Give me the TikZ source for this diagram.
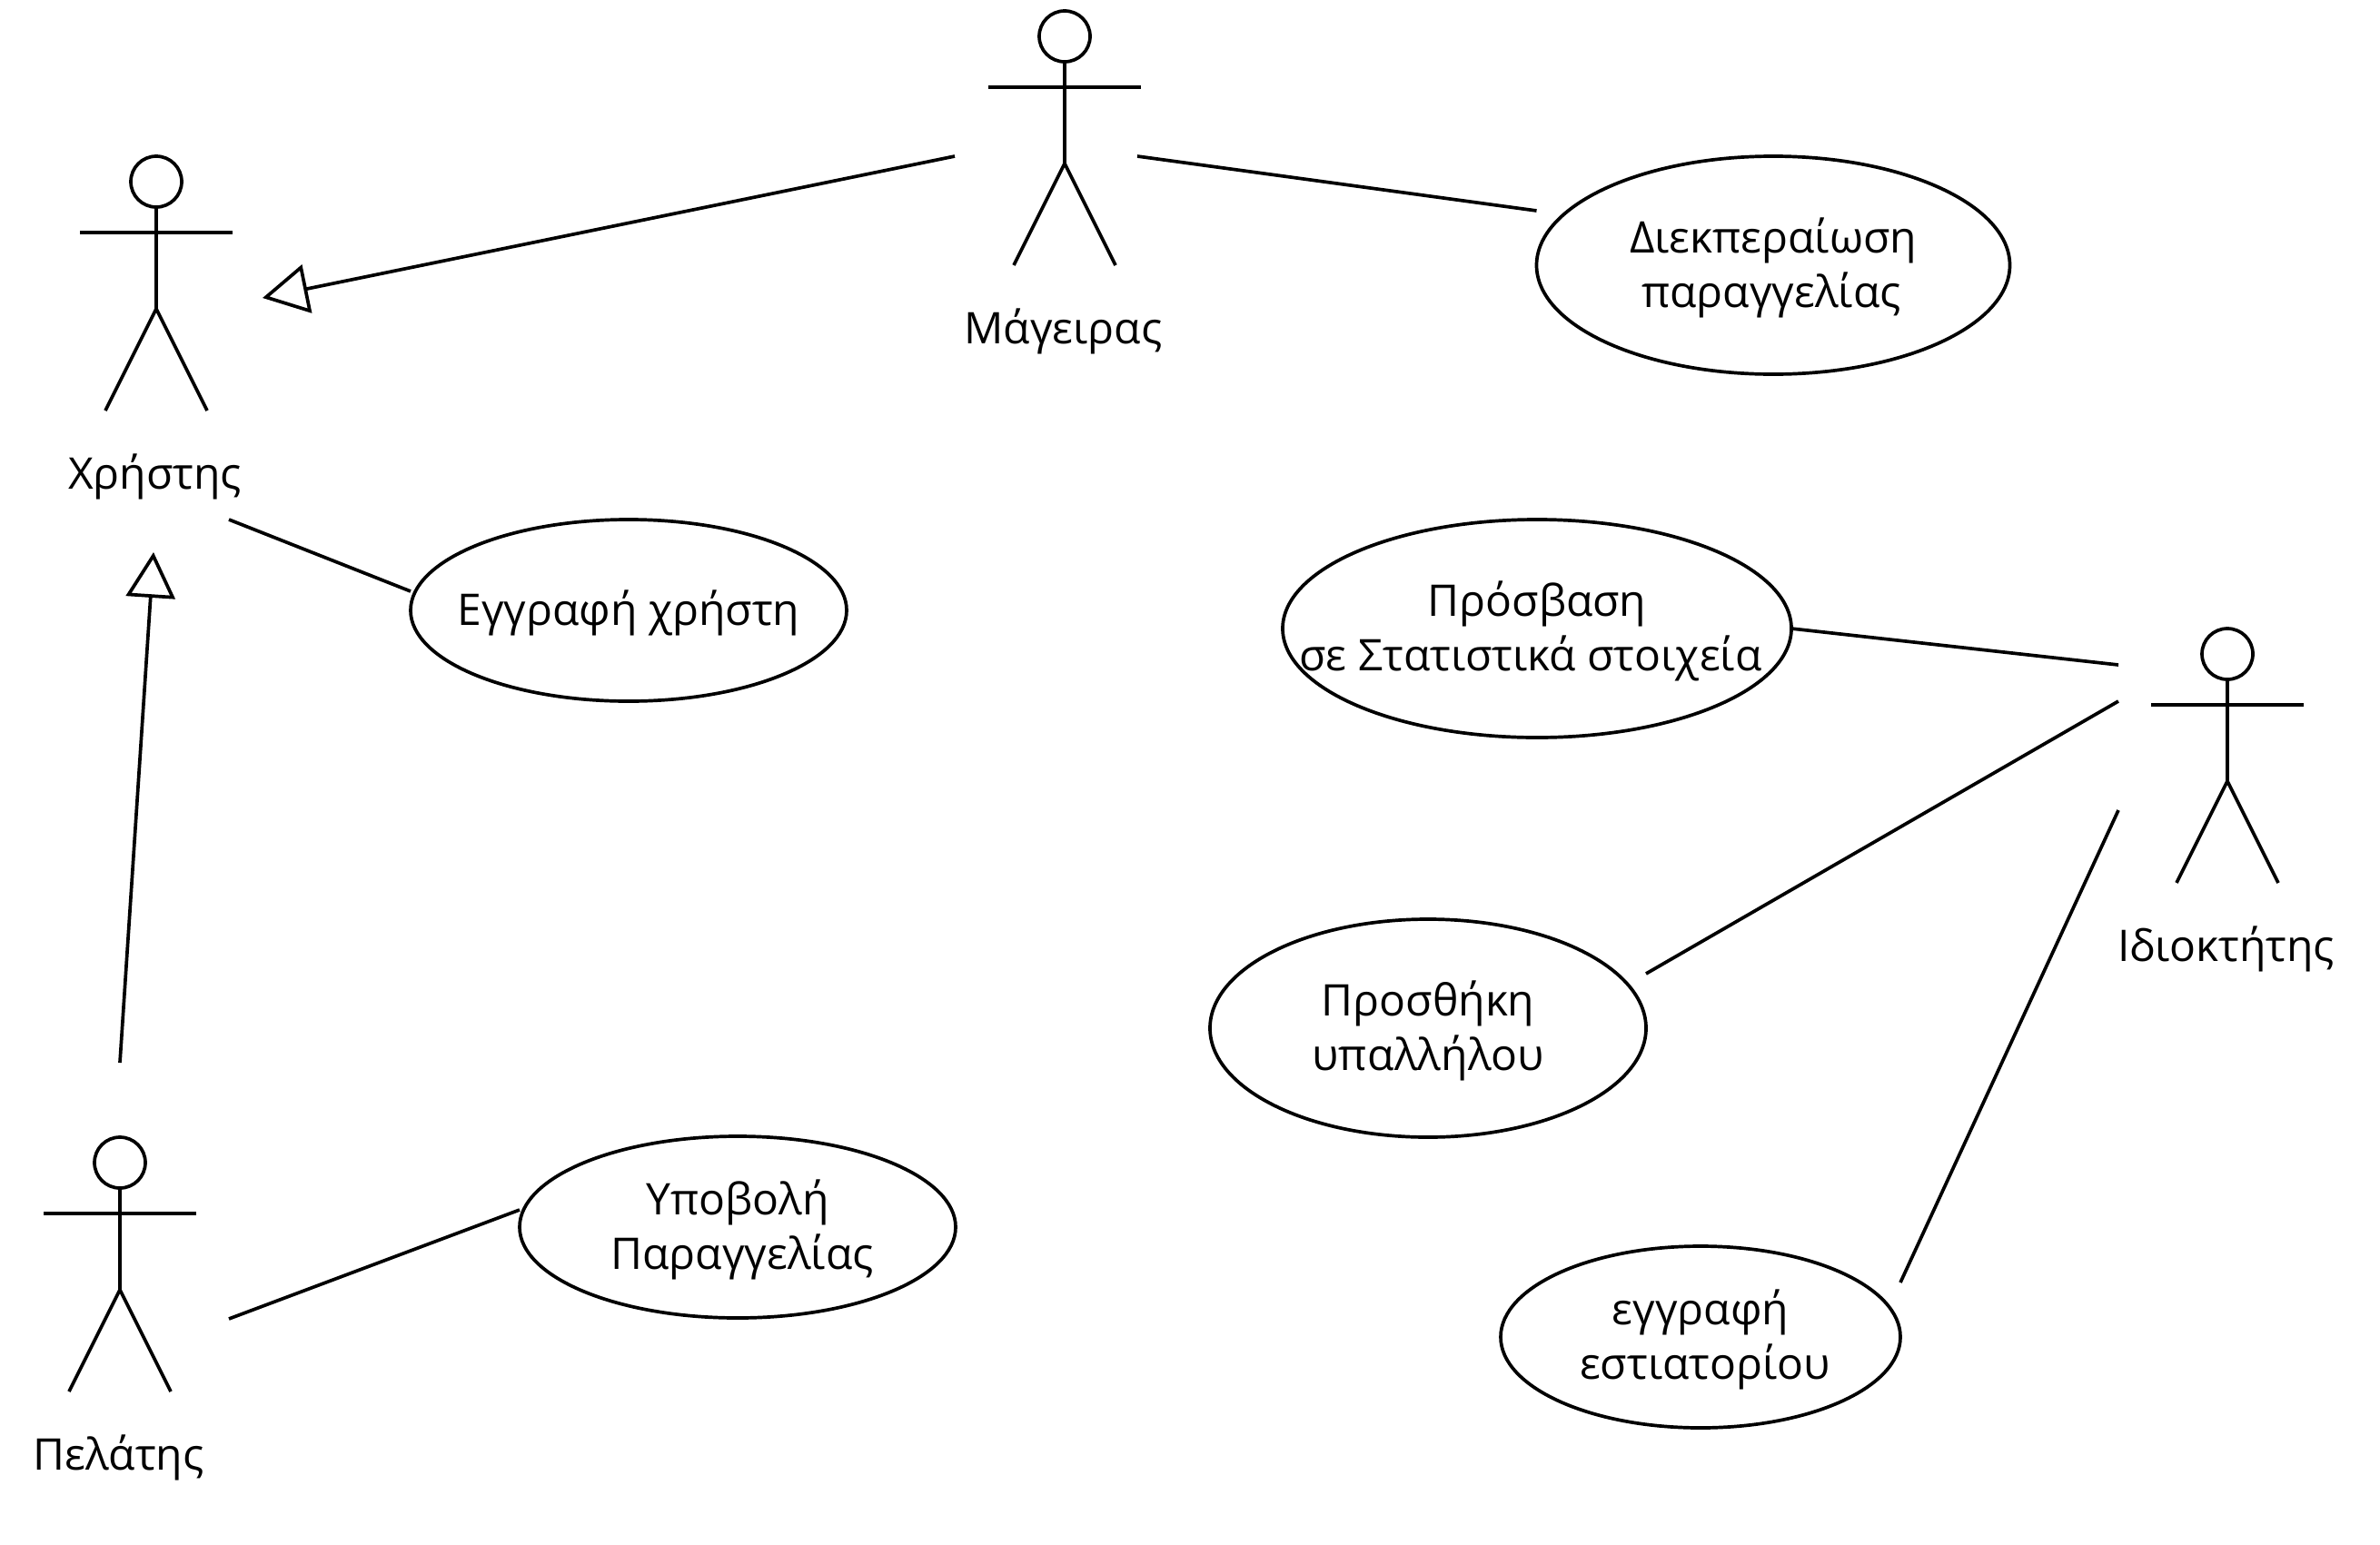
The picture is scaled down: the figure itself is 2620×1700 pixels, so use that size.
\documentclass[tikz,border=0pt]{standalone}
\usepackage{fontspec}
\setmainfont{Open Sans}
\usetikzlibrary{shapes.geometric,arrows.meta,calc}
\newcommand{\ucl}[2][0pt]{\makebox[0pt]{\rule[-10pt]{0pt}{54pt}\hspace*{#1}#2}}
\newcommand{\actorfig}[4]{%
  \node[actorhead] (#1) at (#2,#3) {};
  \draw[conn] (#1.south) -- ++(0,112) coordinate (#1-hip);
  \draw[conn] ($(#1.center)+(-84,56)$) coordinate (#1-la) -- ($(#1.center)+(84,56)$) coordinate (#1-ra);
  \draw[conn] ($(#1.center)+(-56,252)$) coordinate (#1-lf) -- (#1-hip) -- ($(#1.center)+(56,252)$) coordinate (#1-rf);
  \node[actorlabel] (#1-label) at ($(#1.center)+(-1.5,338.5)$) {#4};
}
\tikzset{
  conn/.style={line width=3.7pt,black},
  actorhead/.style={circle,draw,line width=3.7pt,minimum size=56pt,inner sep=0pt,outer sep=0pt},
  actorlabel/.style={anchor=base,inner sep=0pt,font=\fontsize{48}{60}\selectfont},
  usecase/.style={ellipse,draw,line width=3.7pt,inner sep=0pt,outer sep=0pt,align=center,font=\fontsize{48}{60}\selectfont},
  gen/.style={conn,-{Triangle[open,length=50pt,width=54pt,line width=3.7pt]}},
}
\begin{document}
\begin{tikzpicture}[x=1pt,y=-1pt]
\useasboundingbox (0,0) rectangle (2620,1700);
\actorfig{xristis}{172}{200}{Χρήστης}
\actorfig{mageiras}{1172}{40}{Μάγειρας}
\actorfig{pelatis}{132}{1280}{Πελάτης}
\actorfig{idioktitis}{2452}{720}{Ιδιοκτήτης}

\node[usecase,minimum width=521pt,minimum height=240pt] (diek) at (1952,292) {\ucl{Διεκπεραίωση}\\\ucl[-4pt]{παραγγελίας}};
\node[usecase,minimum width=480pt,minimum height=200pt] (eggr) at (692,672) {\ucl{Εγγραφή χρήστη}};
\node[usecase,minimum width=480pt,minimum height=200pt] (ypov) at (812,1351) {\ucl{Υποβολή}\\\ucl[10pt]{Παραγγελίας}};
\node[usecase,minimum width=560pt,minimum height=240pt] (pros) at (1692,692) {\ucl{Πρόσβαση}\\\ucl[-14pt]{σε Στατιστικά στοιχεία}};
\node[usecase,minimum width=480pt,minimum height=240pt] (ypal) at (1572,1132) {\ucl{Προσθήκη}\\\ucl{υπαλλήλου}};
\node[usecase,minimum width=440pt,minimum height=200pt] (estt) at (1872,1472) {\ucl{εγγραφή}\\\ucl[10pt]{εστιατορίου}};

% free ends of the connectors
\coordinate (m-from) at (1051,172);
\coordinate (x-tip) at (289,328);
\coordinate (p-from) at (132,1170);
\coordinate (x-tip2) at (169,608);
\coordinate (m-r) at (1252,172);
\coordinate (d-l) at ($(diek.west)+(0,-60)$);
\coordinate (x-r) at (252,572);
\coordinate (e-l) at ($(eggr.west)+(0,-21)$);
\coordinate (p-r) at (252,1452);
\coordinate (y-l) at ($(ypov.west)+(0,-19)$);
\coordinate (i-l1) at (2332,732);
\coordinate (i-l2) at (2332,772);
\coordinate (i-l3) at (2332,892);
\coordinate (ya-r) at ($(ypal.east)+(0,-60)$);
\coordinate (es-r) at ($(estt.east)+(0,-60)$);

\draw[gen] (m-from) -- (x-tip);
\draw[gen] (p-from) -- (x-tip2);
\draw[conn] (m-r) -- (d-l);
\draw[conn] (x-r) -- (e-l);
\draw[conn] (p-r) -- (y-l);
\draw[conn] (pros.east) -- (i-l1);
\draw[conn] (i-l2) -- (ya-r);
\draw[conn] (i-l3) -- (es-r);
\end{tikzpicture}
\end{document}
